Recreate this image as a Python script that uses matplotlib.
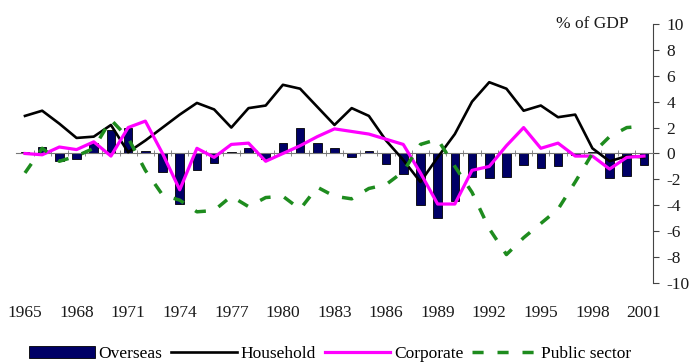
import matplotlib.pyplot as plt
import numpy as np

plt.rcParams['font.family'] = 'Liberation Serif'

years = list(range(1965, 2002))
overseas = [0.1, 0.5, -0.6, -0.4, 0.8, 1.8, 2.0, 0.2, -1.4, -3.9,
            -1.3, -0.7, 0.1, 0.4, -0.4, 0.8, 2.0, 0.8, 0.4, -0.3,
            0.2, -0.8, -1.6, -4.0, -5.0, -3.7, -1.8, -1.9, -1.8, -0.9,
            -1.1, -1.0, -0.1, 0.1, -1.9, -1.7, -0.9]
household = [2.9, 3.3, 2.3, 1.2, 1.3, 2.2, 0.1, 1.0, 2.0, 3.0,
             3.9, 3.4, 2.0, 3.5, 3.7, 5.3, 5.0, 3.6, 2.2, 3.5,
             2.9, 1.0, -0.5, -2.2, -0.3, 1.5, 4.0, 5.5, 5.0, 3.3,
             3.7, 2.8, 3.0, 0.4, -0.6, -0.2, -0.3]
corporate = [0.0, -0.1, 0.5, 0.3, 0.9, -0.2, 2.0, 2.5, 0.0, -2.8,
             0.4, -0.3, 0.7, 0.8, -0.6, 0.0, 0.6, 1.3, 1.9, 1.7,
             1.5, 1.1, 0.7, -1.5, -3.9, -3.9, -1.3, -1.0, 0.6, 2.0,
             0.4, 0.8, -0.2, -0.2, -1.2, -0.3, -0.2]
public = [-1.5, 0.4, -0.6, -0.2, 0.4, 2.6, 1.2, -1.3, -3.2, -3.6,
          -4.5, -4.4, -3.3, -4.1, -3.4, -3.3, -4.3, -2.6, -3.3, -3.5,
          -2.7, -2.4, -1.4, 0.7, 1.1, -1.0, -3.0, -5.8, -7.8, -6.5,
          -5.4, -4.3, -2.2, 0.0, 1.3, 2.0, 2.1]
label_years = list(range(1965, 2002, 3))
y_ticks = list(range(-10, 11, 2))

x = np.arange(len(years))
fs = 12.5
tc = '#1a1a1a'

fig = plt.figure(figsize=(6.91, 3.62), dpi=100)
ax = fig.add_axes([0.0237, 0.218, 0.9207, 0.716])

b = ax.bar(x, overseas, width=0.5, color='#000066', edgecolor='black',
           linewidth=0.6, label='Overseas', zorder=2)
l1, = ax.plot(x, household, color='black', lw=1.9, label='Household', zorder=3)
l2, = ax.plot(x, corporate, color='#ff00ff', lw=2.3, label='Corporate', zorder=4)
l3, = ax.plot(x, public, color='#1e8c1e', lw=2.5, dashes=(3.2, 4.0),
              label='Public sector', zorder=5)

ax.set_xlim(-0.5, len(years) - 0.5)
ax.set_ylim(-10, 10)

# zero line with small year ticks
ax.spines['bottom'].set_position(('data', 0))
ax.spines['bottom'].set_color('#777777')
ax.spines['bottom'].set_linewidth(0.8)
ax.set_xticks(x[:-1] + 0.5)
ax.set_xticklabels([])
ax.tick_params(axis='x', direction='inout', length=4, width=0.6, colors='#777777')

sec = ax.secondary_xaxis(0.0)
sec.set_xticks([years.index(y) for y in label_years])
sec.set_xticklabels([str(y) for y in label_years], fontsize=fs, color=tc)
sec.tick_params(length=0, pad=16)
sec.spines['bottom'].set_visible(False)

ax.spines['top'].set_visible(False)
ax.spines['left'].set_visible(False)
ax.spines['right'].set_color('#444444')
ax.yaxis.tick_right()
ax.set_yticks(y_ticks)
ax.set_yticklabels([str(v) for v in y_ticks], fontsize=fs, color=tc)
ax.tick_params(axis='y', direction='out', length=4, pad=6, colors='#444444',
               labelcolor=tc)

ax.text(0.963, 1.0, '% of GDP', transform=ax.transAxes, ha='right',
        va='center', fontsize=fs, color=tc)

fig.legend([b, l1, l2, l3], ['Overseas', 'Household', 'Corporate', 'Public sector'],
           loc='upper center', bbox_to_anchor=(0.478, 0.068), ncol=4,
           frameon=False, fontsize=fs, handlelength=3.8,
           handletextpad=0.2, columnspacing=0.5, borderpad=0)

fig.savefig('out.png', dpi=100)
